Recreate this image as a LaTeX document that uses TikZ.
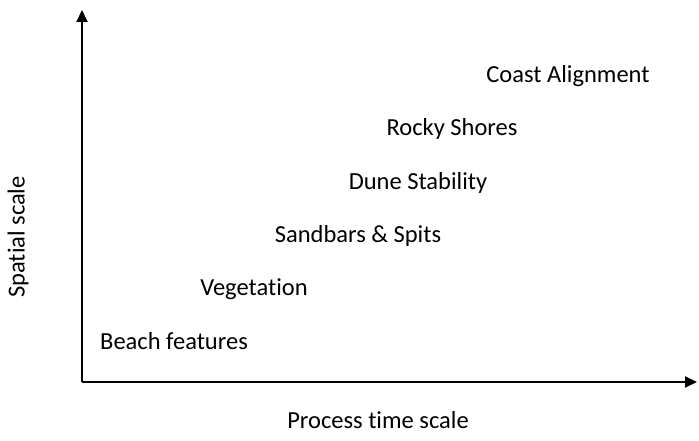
\documentclass[tikz,border=0pt]{standalone}
\usepackage{fontspec}
\setmainfont{Carlito}[Ligatures={NoCommon}]
\usetikzlibrary{arrows.meta}

\begin{document}
\begin{tikzpicture}[
    x=1pt, y=1pt,
    >={Triangle[length=12pt,width=11pt]},
    axis/.style = {line width=2pt, black},
    scale_lbl/.style = {font=\fontsize{24.5}{28}\selectfont, inner sep=0pt},
    feature/.style = {font=\fontsize{24.5}{28}\selectfont, inner sep=0pt},
]

% Rahmen
\useasboundingbox (0,0) rectangle (699,441);

% Achsen
\coordinate (origin) at (82,59);
\coordinate (xend) at (697,59);
\coordinate (yend) at (82,431);
\draw[axis,->] (origin) -- (xend);
\draw[axis,->] (origin) -- (yend);

% Achsenbeschriftung
\node[scale_lbl] (xlabel) at (378,21) {Process time scale};
\node[scale_lbl, rotate=90] (ylabel) at (18,204) {Spatial scale};

% Prozesse
\node[feature] (beach) at (174,100) {Beach features};
\node[feature] (veg) at (254,152) {Vegetation};
\node[feature] (sandbars) at (358,205) {Sandbars \& Spits};
\node[feature] (dune) at (418,258) {Dune Stability};
\node[feature] (rocky) at (452,312) {Rocky Shores};
\node[feature] (coast) at (568,365) {Coast Alignment};

\end{tikzpicture}
\end{document}
